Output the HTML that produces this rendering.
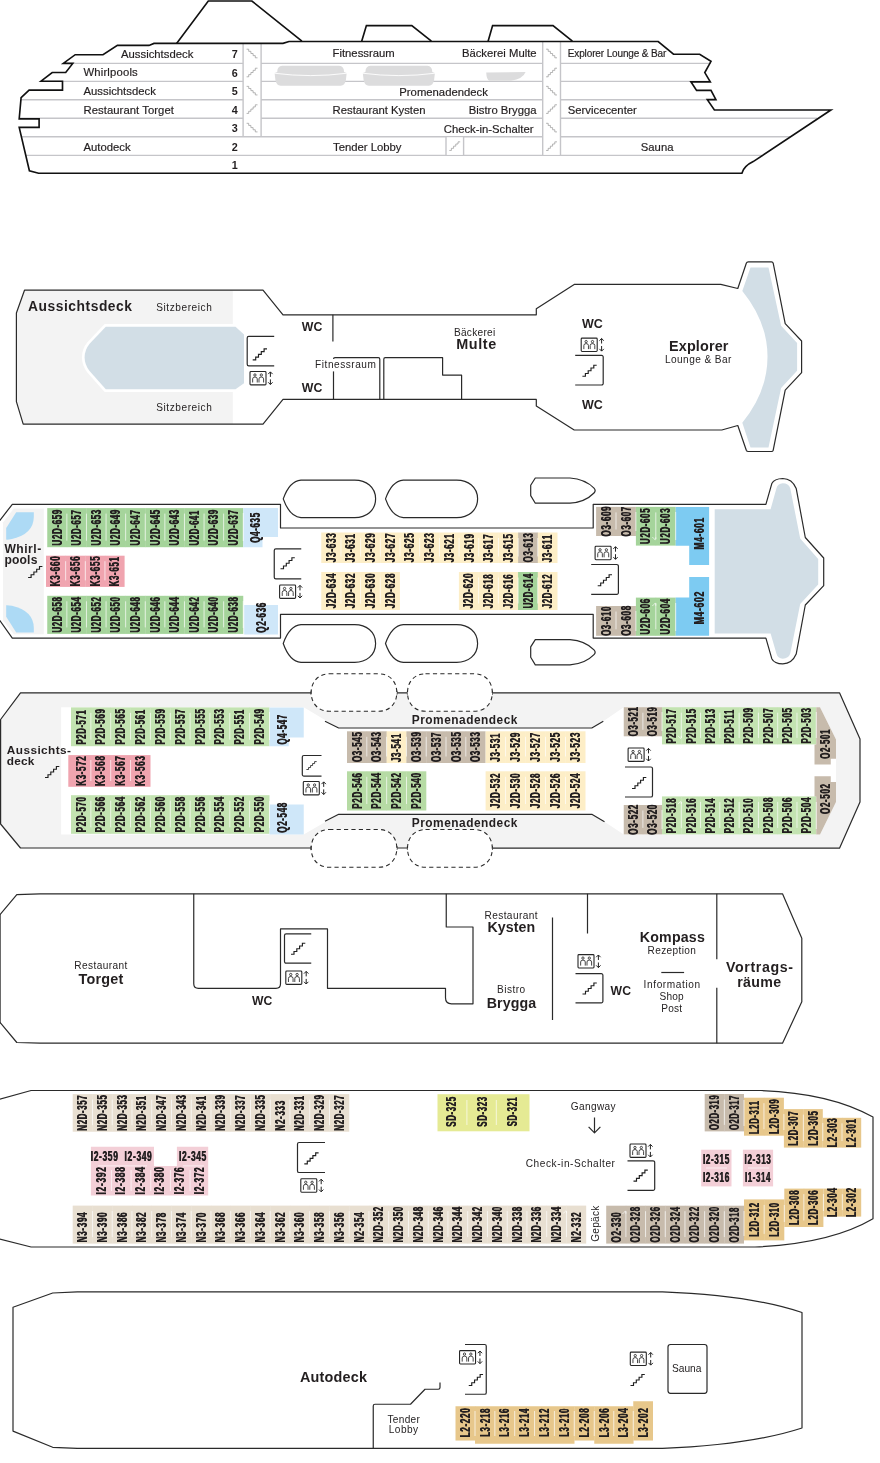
<!DOCTYPE html>
<html><head><meta charset="utf-8"><title>Deckplan</title>
<style>
html,body{margin:0;padding:0;background:#fff}
svg{display:block;will-change:transform}
text{font-family:"Liberation Sans",sans-serif;fill:#231f20}
.h{fill:none;stroke:#2a2a2a;stroke-width:1.2;stroke-linejoin:round;stroke-linecap:butt}
.hf{fill:#fff;stroke:#2a2a2a;stroke-width:1.2;stroke-linejoin:round}
.pf{fill:none;stroke:#111;stroke-width:1.65;stroke-linejoin:miter}
.dl{fill:none;stroke:#c5c5c9;stroke-width:1.4}
.si{fill:none;stroke:#9c9c9c;stroke-width:0.75;stroke-linejoin:round}
.sp{stroke:#fff;stroke-width:0.8;stroke-opacity:0.85;fill:none}
.cb{font-weight:bold;text-anchor:middle;fill:#1a1a1a;letter-spacing:1.15px;font-size:14.9px}
.pl{font-size:11.3px;stroke:#231f20;stroke-width:0.18px}
.pn{font-size:10.8px;font-weight:bold;text-anchor:middle}
.r{font-size:10.1px;letter-spacing:0.6px;fill:#262324}
.b{font-weight:bold;fill:#231f20}
.db{fill:#fff;stroke:#2a2a2a;stroke-width:1.1;stroke-dasharray:4.2 3.2}
</style></head><body>
<svg width="880" height="1463" viewBox="0 0 880 1463">
<defs>
<g id="lift">
<rect x="0.8" y="0" width="16" height="13.4" rx="0.9" fill="#fff" stroke="#262626" stroke-width="1.1"/>
<g fill="none" stroke="#303030" stroke-width="0.9">
<circle cx="5.75" cy="3.5" r="1.15"/><path d="M3.45,11V7.4a2.3,1.9 0 0 1 4.6,0V11"/>
<circle cx="12.1" cy="3.5" r="1.15"/><path d="M9.8,11V7.4a2.3,1.9 0 0 1 4.6,0V11"/>
</g>
<path fill="none" stroke="#222" stroke-width="1" d="M21.2,0.4V5.4M19,2.6L21.2,0.4L23.4,2.6M21.2,7.9V13M19,10.8L21.2,13L23.4,10.8"/>
</g>
<path id="stair" fill="none" stroke="#1f1f1f" stroke-width="1.15" d="M0,0h3v-2.75h2.8v-2.75h2.8v-2.75h2.8v-2.75h2.9"/>
</defs>
<rect width="880" height="1463" fill="#fff"/>
<g id="profile">
<path class="dl" d="M63.5,63.4H711"/>
<path class="dl" d="M41.5,81.4H709.5"/>
<path class="dl" d="M21,99.7H715.5"/>
<path class="dl" d="M19.5,118.3H817"/>
<path class="dl" d="M21.5,136.7H790"/>
<path class="dl" d="M25.5,155.4H762"/>
<path fill="#dcdcdd" d="M274.6,72.9L277.20000000000005,72Q277.40000000000003,65.9 282.1,65.7H339.2Q343.9,65.9 344.09999999999997,72L346.7,72.9L345.9,80Q344.9,85.7 340.7,85.7H280.6Q276.40000000000003,85.7 275.40000000000003,80Z"/>
<path fill="none" stroke="#fff" stroke-width="0.9" d="M274.1,73.2Q310.65,78 347.2,73.2"/>
<path fill="#dcdcdd" d="M362.8,72.9L365.40000000000003,72Q365.6,65.9 370.3,65.7H427.4Q432.09999999999997,65.9 432.29999999999995,72L434.9,72.9L434.09999999999997,80Q433.09999999999997,85.7 428.9,85.7H368.8Q364.6,85.7 363.6,80Z"/>
<path fill="none" stroke="#fff" stroke-width="0.9" d="M362.3,73.2Q398.85,78 435.4,73.2"/>
<path fill="#dcdcdd" d="M486.2,72.6L525.6,72.1Q523,79 511,80.8H489.5Q486.6,80.4 486.2,72.6Z"/>
<rect x="243.10" y="44.00" width="18.00" height="92.00" fill="#fff" />
<rect x="542.60" y="42.50" width="17.90" height="112.20" fill="#fff" />
<rect x="446.10" y="137.40" width="17.60" height="17.30" fill="#fff" />
<path class="dl" d="M243.1,43.5V136.7M261.1,43.5V136.7M542.7,42V155.4M560.5,42V155.4M446,136.7V155.4M463.6,136.7V155.4"/>
<path class="si" d="M246.60,49.20h2.1v2.15h2.2v2.15h2.2v2.15h2.2v2.15h2.2"/>
<path class="si" d="M246.60,76.80h2.1v-2.15h2.2v-2.15h2.2v-2.15h2.2v-2.15h2.2"/>
<path class="si" d="M246.60,86.35h2.1v2.15h2.2v2.15h2.2v2.15h2.2v2.15h2.2"/>
<path class="si" d="M246.60,113.40h2.1v-2.15h2.2v-2.15h2.2v-2.15h2.2v-2.15h2.2"/>
<path class="si" d="M246.60,123.30h2.1v2.15h2.2v2.15h2.2v2.15h2.2v2.15h2.2"/>
<path class="si" d="M546.10,49.20h2.1v2.15h2.2v2.15h2.2v2.15h2.2v2.15h2.2"/>
<path class="si" d="M546.10,76.80h2.1v-2.15h2.2v-2.15h2.2v-2.15h2.2v-2.15h2.2"/>
<path class="si" d="M546.10,86.35h2.1v2.15h2.2v2.15h2.2v2.15h2.2v2.15h2.2"/>
<path class="si" d="M546.10,113.40h2.1v-2.15h2.2v-2.15h2.2v-2.15h2.2v-2.15h2.2"/>
<path class="si" d="M546.10,123.30h2.1v2.15h2.2v2.15h2.2v2.15h2.2v2.15h2.2"/>
<path class="si" d="M546.10,150.45h2.1v-2.15h2.2v-2.15h2.2v-2.15h2.2v-2.15h2.2"/>
<path class="si" d="M449.30,150.45h2.1v-2.15h2.2v-2.15h2.2v-2.15h2.2v-2.15h2.2"/>
<path class="pf" d="M176.6,43.4L208.3,1H251.9L301.9,41.2"/>
<path class="pf" d="M361.7,41.2L366.4,25.6H411.8L431.4,41.2"/>
<path class="pf" d="M488.1,41.2L492.6,25.6H553L572.4,41.2"/>
<path class="pf" d="M283,43.4H154L149,45.4H117.4L103,54.7H75.2L63.3,63.4H72.8L65.7,72.5H52.2L41,81.2H62.5V90.1H29.1L21.1,97.6L19.2,118.8H39.1V127.4H19.2L29.4,170.8L38.6,173.2H741.9Q744,166 753.2,161.6L830.9,110H714.4L707.3,99.6H715.9L711,90.4H696.6L690.9,81.8H710.3L704.8,72.6L711,61.4L699.7,54.2H673.5L658.2,41.5H289L283,43.4Z"/>
<text class="pn" x="234.8" y="58.0">7</text>
<text class="pn" x="234.8" y="76.7">6</text>
<text class="pn" x="234.8" y="95.30000000000001">5</text>
<text class="pn" x="234.8" y="113.9">4</text>
<text class="pn" x="234.8" y="132.4">3</text>
<text class="pn" x="234.8" y="151.0">2</text>
<text class="pn" x="234.8" y="169.4">1</text>
<text class="pl" x="121" y="57.6" textLength="72.3" lengthAdjust="spacing" >Aussichtsdeck</text>
<text class="pl" x="83.5" y="76.3" textLength="54.2" lengthAdjust="spacing" >Whirlpools</text>
<text class="pl" x="83.5" y="94.9" textLength="72.3" lengthAdjust="spacing" >Aussichtsdeck</text>
<text class="pl" x="83.5" y="113.5" textLength="90.4" lengthAdjust="spacing" >Restaurant Torget</text>
<text class="pl" x="83.5" y="150.6" >Autodeck</text>
<text class="pl" x="332.6" y="57.1" textLength="62" lengthAdjust="spacing" >Fitnessraum</text>
<text class="pl" x="332.6" y="113.5" >Restaurant Kysten</text>
<text class="pl" x="333" y="150.6" >Tender Lobby</text>
<text class="pl" x="399.3" y="95.5" >Promenadendeck</text>
<text class="pl" x="536.6" y="57.1" text-anchor="end" >Bäckerei Multe</text>
<text class="pl" x="536.6" y="113.5" text-anchor="end" >Bistro Brygga</text>
<text class="pl" x="533.5" y="132.6" text-anchor="end" >Check-in-Schalter</text>
<text class="pl" x="567.8" y="57.1" textLength="98.5" lengthAdjust="spacing" style="font-size:10px" >Explorer Lounge &amp; Bar</text>
<text class="pl" x="567.8" y="113.5" textLength="69" lengthAdjust="spacing" >Servicecenter</text>
<text class="pl" x="640.8" y="150.6" >Sauna</text>
</g>
<g id="deck7">
<path fill="#f3f3f3" d="M24.5,290.2H232.8V424H23.2L16.4,401.7V313Z"/>
<path fill="#d2dee6" stroke="#fff" stroke-width="5.4" paint-order="stroke" stroke-linejoin="miter" d="M105.8,326.8H235.5L244,334.5V383.2L235.5,389.2H105.8L89.6,371Q84.6,364.5 84.6,357.5Q84.6,350 89.6,343.8Z"/>
<path class="h" d="M24.5,290.2H263L283,314.8H536.3V308.7L574.2,284.4H720.8L737.8,288.5L746.3,263.2Q746.8,261.9 748.3,261.9H771.5Q772.8,261.9 773.2,263.2L785.2,323.6L801.6,341V372.7L785.2,390.1L773.2,450.2Q772.8,451.5 771.5,451.5H748.3Q746.8,451.5 746.3,450.2L737.8,425.5L721.8,430H574.2L536.3,405.9V399.4H283L263,424.2H23.2L16.4,401.7V313Z"/>
<path fill="#d2dee6" d="M750.5,267.4H768.5L781.1,325.7L797.1,343.1V370.7L781.1,388.1L768.5,447.4H750.5L742.3,422.8Q767.5,392 767.5,356.6Q767.5,322 742.3,290.9Z"/>
<path class="h" d="M332.9,314.8V341.4"/>
<path class="h" d="M333.5,399.4V359.2Q333.5,357.7 335,357.7H378.3Q379.8,357.7 379.8,359.2V399.4"/>
<path class="h" d="M383.8,399.4V359.2Q383.8,357.7 385.3,357.7H442.6V375.1H461.6V399.4"/>
<path class="h" d="M274.2,336.4H248.79999999999998a1.6,1.6 0 0 0 -1.6,1.6V364.29999999999995a1.6,1.6 0 0 0 1.6,1.6H274.2"/>
<use href="#stair" x="252.70" y="359.90"/>
<use href="#lift" x="249.20" y="371.50"/>
<use href="#lift" x="580.40" y="338.10"/>
<path class="h" d="M575.2,355.4H601.6a1.6,1.6 0 0 1 1.6,1.6V383.4a1.6,1.6 0 0 1 -1.6,1.6H575.2"/>
<use href="#stair" x="582.40" y="376.30"/>
<text class="b" x="28" y="310.7" textLength="104" lengthAdjust="spacing" style="font-size:13.8px" >Aussichtsdeck</text>
<text class="r" x="156.2" y="311.1" textLength="56.2" lengthAdjust="spacing" >Sitzbereich</text>
<text class="r" x="156.2" y="411.4" textLength="56.2" lengthAdjust="spacing" >Sitzbereich</text>
<text class="b" x="301.8" y="330.8" textLength="20.5" lengthAdjust="spacingAndGlyphs" style="font-size:12.7px" >WC</text>
<text class="b" x="301.8" y="391.8" textLength="20.5" lengthAdjust="spacingAndGlyphs" style="font-size:12.7px" >WC</text>
<rect x="314.00" y="359.00" width="64.00" height="12.40" fill="#fff" />
<text class="r" x="315.1" y="368.0" textLength="61.4" lengthAdjust="spacing" >Fitnessraum</text>
<text class="r" x="453.9" y="336.3" textLength="41.9" lengthAdjust="spacing" >Bäckerei</text>
<text class="b" x="456.3" y="349.3" textLength="39.9" lengthAdjust="spacing" style="font-size:14.4px" >Multe</text>
<text class="b" x="582" y="327.8" textLength="20.8" lengthAdjust="spacingAndGlyphs" style="font-size:12.7px" >WC</text>
<text class="b" x="582" y="408.6" textLength="20.8" lengthAdjust="spacingAndGlyphs" style="font-size:12.7px" >WC</text>
<text class="b" x="669" y="351.2" textLength="59.4" lengthAdjust="spacing" style="font-size:14.4px" >Explorer</text>
<text class="r" x="665" y="363.0" textLength="67" lengthAdjust="spacing" >Lounge &amp; Bar</text>
</g>
<g id="deck6">
<path fill="#f3f3f3" d="M13.8,508.6H43.8V634.2H13.8L3,620V522.5Z"/>
<path fill="#addaf5" d="M6.2,539.6V528L16.2,512.3H33.8V517Q33.5,534 12,539Q8,539.8 6.2,539.6Z"/>
<path fill="#addaf5" d="M6.2,605.2V616.8L16.2,632.5H33.8V627.8Q33.5,610.8 12,605.8Q8,605 6.2,605.2Z"/>
<path fill="#d2dee6" d="M714.7,509.3H770.6L776.4,488.5Q777.6,483.5 782.8,483.3Q788.5,483.3 790.3,488.4L800.2,538.5L818.2,559V584.5L800.2,604L790.3,653.5Q788.5,658.6 782.8,658.7Q777.6,658.4 776.4,653.5L770.6,633.6H714.7Z"/>
<path class="hf" d="M301.00,480.1H354.75C366.00,480.1 375.6,487.00 375.6,498.85C375.6,510.70 366.00,517.6 354.75,517.6H301.00Q289.50,516.70 283.25,498.85Q289.50,481.00 301.00,480.1Z"/>
<path class="hf" d="M301.00,624.6H354.75C366.00,624.6 375.6,631.50 375.6,643.45C375.6,655.40 366.00,662.3 354.75,662.3H301.00Q289.50,661.40 283.25,643.45Q289.50,625.50 301.00,624.6Z"/>
<path class="hf" d="M403.25,480.1H456.75C468.00,480.1 477.6,487.00 477.6,498.85C477.6,510.70 468.00,517.6 456.75,517.6H403.25Q391.75,516.70 385.5,498.85Q391.75,481.00 403.25,480.1Z"/>
<path class="hf" d="M403.25,624.6H456.75C468.00,624.6 477.6,631.50 477.6,643.45C477.6,655.40 468.00,662.3 456.75,662.3H403.25Q391.75,661.40 385.5,643.45Q391.75,625.50 403.25,624.6Z"/>
<path class="hf" d="M535.3,478H570Q585,479 594,488.20Q596.3,490.60 594,493.00Q585,502.2 570,503.2H535.3L530.7,495.60V485.30Z"/>
<path class="hf" d="M535.3,639.6H570Q585,640.6 594,649.85Q596.3,652.25 594,654.65Q585,663.9 570,664.9H535.3L530.7,657.30V646.90Z"/>
<path class="h" d="M-1,521.5L12.3,504.3H280.5V528H593.2V504.3H765.9L771.8,483.6Q774.3,478.6 782.8,478.5Q792,478.6 796.2,488.4L805.3,537.5L823.7,558V585.6L805.3,605L796.2,654.1Q792,663.8 782.8,663.9Q774.3,663.8 771.8,658.7L765.9,638.1H593.2V614.3H280.5V638.1H12.3L-1,619.3"/>
<rect x="47.25" y="508.10" width="19.90" height="39.10" fill="#a5d49b" />
<rect x="66.85" y="508.10" width="19.90" height="39.10" fill="#a5d49b" />
<rect x="86.45" y="508.10" width="19.90" height="39.10" fill="#a5d49b" />
<rect x="106.05" y="508.10" width="19.90" height="39.10" fill="#a5d49b" />
<rect x="125.65" y="508.10" width="19.90" height="39.10" fill="#a5d49b" />
<rect x="145.25" y="508.10" width="19.90" height="39.10" fill="#a5d49b" />
<rect x="164.85" y="508.10" width="19.90" height="39.10" fill="#a5d49b" />
<rect x="184.45" y="508.10" width="19.90" height="39.10" fill="#a5d49b" />
<rect x="204.05" y="508.10" width="19.90" height="39.10" fill="#a5d49b" />
<rect x="223.65" y="508.10" width="19.60" height="39.10" fill="#a5d49b" />
<path class="sp" d="M66.85,513.60V540.70"/>
<path class="sp" d="M86.45,513.60V540.70"/>
<path class="sp" d="M106.05,513.60V540.70"/>
<path class="sp" d="M125.65,513.60V540.70"/>
<path class="sp" d="M145.25,513.60V540.70"/>
<path class="sp" d="M164.85,513.60V540.70"/>
<path class="sp" d="M184.45,513.60V540.70"/>
<path class="sp" d="M204.05,513.60V540.70"/>
<path class="sp" d="M223.65,513.60V540.70"/>
<rect x="47.25" y="595.80" width="19.90" height="38.10" fill="#a5d49b" />
<rect x="66.85" y="595.80" width="19.90" height="38.10" fill="#a5d49b" />
<rect x="86.45" y="595.80" width="19.90" height="38.10" fill="#a5d49b" />
<rect x="106.05" y="595.80" width="19.90" height="38.10" fill="#a5d49b" />
<rect x="125.65" y="595.80" width="19.90" height="38.10" fill="#a5d49b" />
<rect x="145.25" y="595.80" width="19.90" height="38.10" fill="#a5d49b" />
<rect x="164.85" y="595.80" width="19.90" height="38.10" fill="#a5d49b" />
<rect x="184.45" y="595.80" width="19.90" height="38.10" fill="#a5d49b" />
<rect x="204.05" y="595.80" width="19.90" height="38.10" fill="#a5d49b" />
<rect x="223.65" y="595.80" width="19.60" height="38.10" fill="#a5d49b" />
<path class="sp" d="M66.85,601.30V627.40"/>
<path class="sp" d="M86.45,601.30V627.40"/>
<path class="sp" d="M106.05,601.30V627.40"/>
<path class="sp" d="M125.65,601.30V627.40"/>
<path class="sp" d="M145.25,601.30V627.40"/>
<path class="sp" d="M164.85,601.30V627.40"/>
<path class="sp" d="M184.45,601.30V627.40"/>
<path class="sp" d="M204.05,601.30V627.40"/>
<path class="sp" d="M223.65,601.30V627.40"/>
<rect x="46.00" y="555.70" width="19.95" height="31.20" fill="#f0a4af" />
<rect x="65.65" y="555.70" width="19.95" height="31.20" fill="#f0a4af" />
<rect x="85.30" y="555.70" width="19.95" height="31.20" fill="#f0a4af" />
<rect x="104.95" y="555.70" width="19.65" height="31.20" fill="#f0a4af" />
<path class="sp" d="M65.65,561.20V580.40"/>
<path class="sp" d="M85.30,561.20V580.40"/>
<path class="sp" d="M104.95,561.20V580.40"/>
<path fill="#cfe7f9" d="M243.25,508.1H278V537H262.5V547.2H243.25Z"/>
<rect x="244.20" y="605.00" width="33.80" height="29.50" fill="#cfe7f9" />
<rect x="321.25" y="532.50" width="19.99" height="30.50" fill="#fdeec7" />
<rect x="340.94" y="532.50" width="19.99" height="30.50" fill="#fdeec7" />
<rect x="360.62" y="532.50" width="19.99" height="30.50" fill="#fdeec7" />
<rect x="380.31" y="532.50" width="19.99" height="30.50" fill="#fdeec7" />
<rect x="400.00" y="532.50" width="19.99" height="30.50" fill="#fdeec7" />
<rect x="419.69" y="532.50" width="19.99" height="30.50" fill="#fdeec7" />
<rect x="439.38" y="532.50" width="19.99" height="30.50" fill="#fdeec7" />
<rect x="459.06" y="532.50" width="19.99" height="30.50" fill="#fdeec7" />
<rect x="478.75" y="532.50" width="19.99" height="30.50" fill="#fdeec7" />
<rect x="498.44" y="532.50" width="19.99" height="30.50" fill="#fdeec7" />
<rect x="518.12" y="532.50" width="19.99" height="30.50" fill="#c7bbac" />
<rect x="537.81" y="532.50" width="19.69" height="30.50" fill="#fdeec7" />
<path class="sp" d="M340.94,538.00V556.50"/>
<path class="sp" d="M360.62,538.00V556.50"/>
<path class="sp" d="M380.31,538.00V556.50"/>
<path class="sp" d="M400.00,538.00V556.50"/>
<path class="sp" d="M419.69,538.00V556.50"/>
<path class="sp" d="M439.38,538.00V556.50"/>
<path class="sp" d="M459.06,538.00V556.50"/>
<path class="sp" d="M478.75,538.00V556.50"/>
<path class="sp" d="M498.44,538.00V556.50"/>
<path class="sp" d="M518.12,538.00V556.50"/>
<path class="sp" d="M537.81,538.00V556.50"/>
<rect x="321.25" y="572.00" width="19.96" height="38.00" fill="#fdeec7" />
<rect x="340.91" y="572.00" width="19.96" height="38.00" fill="#fdeec7" />
<rect x="360.57" y="572.00" width="19.96" height="38.00" fill="#fdeec7" />
<rect x="380.24" y="572.00" width="19.66" height="38.00" fill="#fdeec7" />
<path class="sp" d="M340.91,577.50V603.50"/>
<path class="sp" d="M360.57,577.50V603.50"/>
<path class="sp" d="M380.24,577.50V603.50"/>
<rect x="458.90" y="572.00" width="20.02" height="38.00" fill="#fdeec7" />
<rect x="478.62" y="572.00" width="20.02" height="38.00" fill="#fdeec7" />
<rect x="498.34" y="572.00" width="20.02" height="38.00" fill="#fdeec7" />
<rect x="518.06" y="572.00" width="20.02" height="38.00" fill="#a5d49b" />
<rect x="537.78" y="572.00" width="19.72" height="38.00" fill="#fdeec7" />
<path class="sp" d="M478.62,577.50V603.50"/>
<path class="sp" d="M498.34,577.50V603.50"/>
<path class="sp" d="M518.06,577.50V603.50"/>
<path class="sp" d="M537.78,577.50V603.50"/>
<rect x="596.10" y="506.90" width="20.20" height="29.10" fill="#c7bbac" />
<rect x="616.00" y="506.90" width="19.90" height="29.10" fill="#c7bbac" />
<path class="sp" d="M616.00,512.40V529.50"/>
<rect x="635.90" y="506.90" width="20.20" height="38.70" fill="#a5d49b" />
<rect x="655.80" y="506.90" width="19.90" height="38.70" fill="#a5d49b" />
<path class="sp" d="M655.80,512.40V539.10"/>
<rect x="596.10" y="606.00" width="20.20" height="29.80" fill="#c7bbac" />
<rect x="616.00" y="606.00" width="19.90" height="29.80" fill="#c7bbac" />
<path class="sp" d="M616.00,611.50V629.30"/>
<rect x="635.90" y="597.60" width="20.20" height="38.20" fill="#a5d49b" />
<rect x="655.80" y="597.60" width="19.90" height="38.20" fill="#a5d49b" />
<path class="sp" d="M655.80,603.10V629.30"/>
<path fill="#7dcbf2" d="M675.7,506.9H709.1V565H689.2V545.8H675.7Z"/>
<path fill="#7dcbf2" d="M689.2,576.9H709.1V635.8H675.7V597.6H689.2Z"/>
<path class="h" d="M301.25,548.8H275.85a1.6,1.6 0 0 0 -1.6,1.6V577.1999999999999a1.6,1.6 0 0 0 1.6,1.6H301.25"/>
<use href="#stair" x="280.50" y="568.80"/>
<use href="#lift" x="278.80" y="585.00"/>
<use href="#lift" x="594.30" y="546.30"/>
<path class="h" d="M591.2,564.5H616.8a1.6,1.6 0 0 1 1.6,1.6V592.8a1.6,1.6 0 0 1 -1.6,1.6H591.2"/>
<use href="#stair" x="597.70" y="585.70"/>
<use href="#stair" x="28.10" y="577.50"/>
<text class="b" x="4.4" y="552.8" textLength="36.8" lengthAdjust="spacing" style="font-size:12.1px" >Whirl-</text>
<text class="b" x="4.4" y="563.8" textLength="33" lengthAdjust="spacing" style="font-size:12.1px" >pools</text>
</g>
<g id="deck5">
<path fill="#f3f3f3" d="M0.6,719.5L20.5,692.5H839.5L860,738.9V801.9L839.5,848.2H20.5L0.6,824Z"/>
<path fill="#fff" d="M61.1,707.2H303.7L338,727.8H591.8L603.3,721.3L623.75,707.2H820L836,739.5V801.9L820,834.4H623.75L604.5,821.8L591.8,814.3H338.7L303.7,834.4H61.1Z"/>
<path class="h" d="M311.2,692.8H20.5L0.6,719.5V824L20.5,848H311.2M396.8,692.8H407.5M396.8,848H407.5M492.3,692.8H839.5L860,738.9V801.9L839.5,848.2H492.3"/>
<path class="h" d="M311.2,690.8V694.8M396.8,690.8V694.8M407.5,690.8V694.8M492.3,690.8V694.8M311.2,846V850M396.8,846V850M407.5,846V850M492.3,846V850"/>
<path class="db" d="M329.2,673.8H378.8C388.8,673.8 396.8,680.8 396.8,692.55C396.8,704.3 388.8,711.3 378.8,711.3H329.2C319.2,711.3 311.2,704.3 311.2,692.55C311.2,680.8 319.2,673.8 329.2,673.8Z"/>
<path class="db" d="M329.2,829.5H378.8C388.8,829.5 396.8,836.5 396.8,848.4C396.8,860.3 388.8,867.3 378.8,867.3H329.2C319.2,867.3 311.2,860.3 311.2,848.4C311.2,836.5 319.2,829.5 329.2,829.5Z"/>
<path class="db" d="M425.5,673.8H474.3C484.3,673.8 492.3,680.8 492.3,692.55C492.3,704.3 484.3,711.3 474.3,711.3H425.5C415.5,711.3 407.5,704.3 407.5,692.55C407.5,680.8 415.5,673.8 425.5,673.8Z"/>
<path class="db" d="M425.5,829.5H474.3C484.3,829.5 492.3,836.5 492.3,848.4C492.3,860.3 484.3,867.3 474.3,867.3H425.5C415.5,867.3 407.5,860.3 407.5,848.4C407.5,836.5 415.5,829.5 425.5,829.5Z"/>
<path class="h" d="M325,721.2L338.7,728H591.8L603.3,721.2M325,821.3L338.7,814.3H591.8L604.5,821.8"/>
<rect x="71.00" y="707.40" width="20.15" height="38.80" fill="#c3e3b1" />
<rect x="90.85" y="707.40" width="20.15" height="38.80" fill="#c3e3b1" />
<rect x="110.70" y="707.40" width="20.15" height="38.80" fill="#c3e3b1" />
<rect x="130.55" y="707.40" width="20.15" height="38.80" fill="#c3e3b1" />
<rect x="150.40" y="707.40" width="20.15" height="38.80" fill="#c3e3b1" />
<rect x="170.25" y="707.40" width="20.15" height="38.80" fill="#c3e3b1" />
<rect x="190.10" y="707.40" width="20.15" height="38.80" fill="#c3e3b1" />
<rect x="209.95" y="707.40" width="20.15" height="38.80" fill="#c3e3b1" />
<rect x="229.80" y="707.40" width="20.15" height="38.80" fill="#c3e3b1" />
<rect x="249.65" y="707.40" width="19.85" height="38.80" fill="#c3e3b1" />
<path class="sp" d="M90.85,712.90V739.70"/>
<path class="sp" d="M110.70,712.90V739.70"/>
<path class="sp" d="M130.55,712.90V739.70"/>
<path class="sp" d="M150.40,712.90V739.70"/>
<path class="sp" d="M170.25,712.90V739.70"/>
<path class="sp" d="M190.10,712.90V739.70"/>
<path class="sp" d="M209.95,712.90V739.70"/>
<path class="sp" d="M229.80,712.90V739.70"/>
<path class="sp" d="M249.65,712.90V739.70"/>
<rect x="71.00" y="795.20" width="20.15" height="38.60" fill="#c3e3b1" />
<rect x="90.85" y="795.20" width="20.15" height="38.60" fill="#c3e3b1" />
<rect x="110.70" y="795.20" width="20.15" height="38.60" fill="#c3e3b1" />
<rect x="130.55" y="795.20" width="20.15" height="38.60" fill="#c3e3b1" />
<rect x="150.40" y="795.20" width="20.15" height="38.60" fill="#c3e3b1" />
<rect x="170.25" y="795.20" width="20.15" height="38.60" fill="#c3e3b1" />
<rect x="190.10" y="795.20" width="20.15" height="38.60" fill="#c3e3b1" />
<rect x="209.95" y="795.20" width="20.15" height="38.60" fill="#c3e3b1" />
<rect x="229.80" y="795.20" width="20.15" height="38.60" fill="#c3e3b1" />
<rect x="249.65" y="795.20" width="19.85" height="38.60" fill="#c3e3b1" />
<path class="sp" d="M90.85,800.70V827.30"/>
<path class="sp" d="M110.70,800.70V827.30"/>
<path class="sp" d="M130.55,800.70V827.30"/>
<path class="sp" d="M150.40,800.70V827.30"/>
<path class="sp" d="M170.25,800.70V827.30"/>
<path class="sp" d="M190.10,800.70V827.30"/>
<path class="sp" d="M209.95,800.70V827.30"/>
<path class="sp" d="M229.80,800.70V827.30"/>
<path class="sp" d="M249.65,800.70V827.30"/>
<rect x="68.30" y="755.10" width="82.20" height="31.70" fill="#f0a4af" />
<path class="sp" d="M90.85,760.00V781.00"/>
<path class="sp" d="M110.70,760.00V781.00"/>
<path class="sp" d="M130.55,760.00V781.00"/>
<path fill="#cfe7f9" d="M269.5,707.4H303.75V737.5H288.75V746.2H269.5Z"/>
<rect x="269.50" y="804.50" width="34.25" height="30.00" fill="#cfe7f9" />
<rect x="347.00" y="731.30" width="20.10" height="31.70" fill="#c7bbac" />
<rect x="366.80" y="731.30" width="20.10" height="31.70" fill="#c7bbac" />
<rect x="386.60" y="731.30" width="20.10" height="31.70" fill="#fdeec7" />
<rect x="406.40" y="731.30" width="20.10" height="31.70" fill="#c7bbac" />
<rect x="426.20" y="731.30" width="20.10" height="31.70" fill="#c7bbac" />
<rect x="446.00" y="731.30" width="20.10" height="31.70" fill="#c7bbac" />
<rect x="465.80" y="731.30" width="19.80" height="31.70" fill="#c7bbac" />
<path class="sp" d="M366.80,736.80V756.50"/>
<path class="sp" d="M386.60,736.80V756.50"/>
<path class="sp" d="M406.40,736.80V756.50"/>
<path class="sp" d="M426.20,736.80V756.50"/>
<path class="sp" d="M446.00,736.80V756.50"/>
<path class="sp" d="M465.80,736.80V756.50"/>
<rect x="485.60" y="731.30" width="20.28" height="31.70" fill="#fdeec7" />
<rect x="505.58" y="731.30" width="20.28" height="31.70" fill="#fdeec7" />
<rect x="525.56" y="731.30" width="20.28" height="31.70" fill="#fdeec7" />
<rect x="545.54" y="731.30" width="20.28" height="31.70" fill="#fdeec7" />
<rect x="565.52" y="731.30" width="19.98" height="31.70" fill="#fdeec7" />
<path class="sp" d="M505.58,736.80V756.50"/>
<path class="sp" d="M525.56,736.80V756.50"/>
<path class="sp" d="M545.54,736.80V756.50"/>
<path class="sp" d="M565.52,736.80V756.50"/>
<rect x="347.00" y="771.30" width="20.13" height="39.20" fill="#b6dba4" />
<rect x="366.82" y="771.30" width="20.13" height="39.20" fill="#b6dba4" />
<rect x="386.65" y="771.30" width="20.13" height="39.20" fill="#b6dba4" />
<rect x="406.48" y="771.30" width="19.83" height="39.20" fill="#b6dba4" />
<path class="sp" d="M366.82,776.80V804.00"/>
<path class="sp" d="M386.65,776.80V804.00"/>
<path class="sp" d="M406.48,776.80V804.00"/>
<rect x="485.60" y="771.30" width="20.28" height="39.20" fill="#fdeec7" />
<rect x="505.58" y="771.30" width="20.28" height="39.20" fill="#fdeec7" />
<rect x="525.56" y="771.30" width="20.28" height="39.20" fill="#fdeec7" />
<rect x="545.54" y="771.30" width="20.28" height="39.20" fill="#fdeec7" />
<rect x="565.52" y="771.30" width="19.98" height="39.20" fill="#fdeec7" />
<path class="sp" d="M505.58,776.80V804.00"/>
<path class="sp" d="M525.56,776.80V804.00"/>
<path class="sp" d="M545.54,776.80V804.00"/>
<path class="sp" d="M565.52,776.80V804.00"/>
<rect x="623.75" y="707.20" width="19.43" height="29.10" fill="#c7bbac" />
<rect x="642.88" y="707.20" width="19.12" height="29.10" fill="#c7bbac" />
<path class="sp" d="M642.88,712.70V729.80"/>
<rect x="623.75" y="805.00" width="19.43" height="29.40" fill="#c7bbac" />
<rect x="642.88" y="805.00" width="19.12" height="29.40" fill="#c7bbac" />
<path class="sp" d="M642.88,810.50V827.90"/>
<rect x="662.00" y="707.20" width="19.58" height="37.20" fill="#c3e3b1" />
<rect x="681.28" y="707.20" width="19.58" height="37.20" fill="#c3e3b1" />
<rect x="700.56" y="707.20" width="19.58" height="37.20" fill="#c3e3b1" />
<rect x="719.84" y="707.20" width="19.58" height="37.20" fill="#c3e3b1" />
<rect x="739.12" y="707.20" width="19.58" height="37.20" fill="#c3e3b1" />
<rect x="758.41" y="707.20" width="19.58" height="37.20" fill="#c3e3b1" />
<rect x="777.69" y="707.20" width="19.58" height="37.20" fill="#c3e3b1" />
<rect x="796.97" y="707.20" width="19.28" height="37.20" fill="#c3e3b1" />
<path class="sp" d="M681.28,712.70V737.90"/>
<path class="sp" d="M700.56,712.70V737.90"/>
<path class="sp" d="M719.84,712.70V737.90"/>
<path class="sp" d="M739.12,712.70V737.90"/>
<path class="sp" d="M758.41,712.70V737.90"/>
<path class="sp" d="M777.69,712.70V737.90"/>
<path class="sp" d="M796.97,712.70V737.90"/>
<rect x="662.00" y="796.40" width="19.58" height="38.00" fill="#c3e3b1" />
<rect x="681.28" y="796.40" width="19.58" height="38.00" fill="#c3e3b1" />
<rect x="700.56" y="796.40" width="19.58" height="38.00" fill="#c3e3b1" />
<rect x="719.84" y="796.40" width="19.58" height="38.00" fill="#c3e3b1" />
<rect x="739.12" y="796.40" width="19.58" height="38.00" fill="#c3e3b1" />
<rect x="758.41" y="796.40" width="19.58" height="38.00" fill="#c3e3b1" />
<rect x="777.69" y="796.40" width="19.58" height="38.00" fill="#c3e3b1" />
<rect x="796.97" y="796.40" width="19.28" height="38.00" fill="#c3e3b1" />
<path class="sp" d="M681.28,801.90V827.90"/>
<path class="sp" d="M700.56,801.90V827.90"/>
<path class="sp" d="M719.84,801.90V827.90"/>
<path class="sp" d="M739.12,801.90V827.90"/>
<path class="sp" d="M758.41,801.90V827.90"/>
<path class="sp" d="M777.69,801.90V827.90"/>
<path class="sp" d="M796.97,801.90V827.90"/>
<path fill="#c7bbac" d="M816.25,707.2H820L836,739.5V758.8H830.75V764.5H814.5V744.4H816.25Z"/>
<path fill="#c7bbac" d="M816.25,834.4H820L836,801.9V782H830.75V776.3H814.5V796.4H816.25Z"/>
<path class="h" d="M321.5,755.5H303.90000000000003a1.6,1.6 0 0 0 -1.6,1.6V774.5a1.6,1.6 0 0 0 1.6,1.6H321.5"/>
<g transform="translate(306.40,769.50) scale(0.72)"><use href="#stair"/></g>
<use href="#lift" x="302.50" y="781.50"/>
<use href="#lift" x="627.30" y="748.00"/>
<path class="h" d="M625,767H650.9a1.6,1.6 0 0 1 1.6,1.6V795.4a1.6,1.6 0 0 1 -1.6,1.6H625"/>
<use href="#stair" x="632.00" y="788.50"/>
<use href="#stair" x="45.00" y="777.50"/>
<text class="b" x="6.8" y="753.5" textLength="64.2" lengthAdjust="spacing" style="font-size:11.8px" >Aussichts-</text>
<text class="b" x="6.8" y="765.4" textLength="27.5" lengthAdjust="spacing" style="font-size:11.8px" >deck</text>
<text class="b" x="411.75" y="723.8" textLength="105.7" lengthAdjust="spacing" style="font-size:11.9px" >Promenadendeck</text>
<text class="b" x="411.75" y="827.3" textLength="105.7" lengthAdjust="spacing" style="font-size:11.9px" >Promenadendeck</text>
</g>
<g id="deck4">
<path class="h" d="M0,914.7L16.8,894.6L40,893.8H782.5L801.8,938.2V1001.8L782.5,1043.2H40L16.8,1042.5L0,1022.4"/>
<path class="h" d="M0.1,914.3V1023.4"/>
<path class="h" d="M193.75,893.8V983.7Q193.75,988.3 198.4,988.3H276Q280.5,988.3 280.5,983.7V928.8H327.5V988.3H445.5V997.8Q445.5,1003.8 451.5,1003.8H473V927H446.25V893.8"/>
<path class="h" d="M552.5,917.5V1020M587.5,893.8V933.6M716.8,893.8V959.2M716.8,987.8V1043.2"/>
<path class="h" d="M661.3,972.5H684.1" stroke-width="0.8"/>
<path class="h" d="M311.25,933.8H286.1a1.6,1.6 0 0 0 -1.6,1.6V961.6a1.6,1.6 0 0 0 1.6,1.6H311.25"/>
<use href="#stair" x="291.00" y="954.30"/>
<use href="#lift" x="285.00" y="971.00"/>
<use href="#lift" x="577.20" y="954.60"/>
<path class="h" d="M575.5,973.7H601.3a1.6,1.6 0 0 1 1.6,1.6V1001.3a1.6,1.6 0 0 1 -1.6,1.6H575.5"/>
<use href="#stair" x="582.50" y="994.00"/>
<text class="r" x="74.3" y="968.7" textLength="53.6" lengthAdjust="spacing" >Restaurant</text>
<text class="b" x="78.4" y="983.7" textLength="45" lengthAdjust="spacing" style="font-size:14.4px" >Torget</text>
<text class="b" x="252" y="1004.8" textLength="20.3" lengthAdjust="spacingAndGlyphs" style="font-size:12.7px" >WC</text>
<text class="r" x="484.5" y="918.5" textLength="53.6" lengthAdjust="spacing" >Restaurant</text>
<text class="b" x="487.5" y="931.7" textLength="47.6" lengthAdjust="spacing" style="font-size:14.2px" >Kysten</text>
<text class="r" x="497" y="993.0" textLength="28.8" lengthAdjust="spacing" >Bistro</text>
<text class="b" x="486.75" y="1007.5" textLength="49.5" lengthAdjust="spacing" style="font-size:14.2px" >Brygga</text>
<text class="b" x="639.8" y="941.6" textLength="65" lengthAdjust="spacing" style="font-size:14.2px" >Kompass</text>
<text class="r" x="647.6" y="954.1" textLength="48.8" lengthAdjust="spacing" >Rezeption</text>
<text class="r" x="643.6" y="988.4" textLength="57.2" lengthAdjust="spacing" >Information</text>
<text class="r" x="659.5" y="1000.1" textLength="24.8" lengthAdjust="spacing" >Shop</text>
<text class="r" x="661.2" y="1011.7" textLength="21.4" lengthAdjust="spacing" >Post</text>
<text class="b" x="610.6" y="994.5" textLength="20.4" lengthAdjust="spacingAndGlyphs" style="font-size:12.7px" >WC</text>
<text class="b" x="726" y="971.6" textLength="67" lengthAdjust="spacing" style="font-size:14.2px" >Vortrags-</text>
<text class="b" x="737.2" y="986.5" textLength="43.9" lengthAdjust="spacing" style="font-size:14.2px" >räume</text>
</g>
<g id="deck3">
<path class="h" d="M-1,1099.4L31.1,1090.5H761Q830,1093 873,1117V1218.8Q830,1244 755,1247H31.1L-1,1238.8"/>
<rect x="72.70" y="1094.10" width="20.05" height="37.60" fill="#e8dfd1" />
<rect x="92.45" y="1094.10" width="20.05" height="37.60" fill="#e8dfd1" />
<rect x="112.21" y="1094.10" width="20.05" height="37.60" fill="#e8dfd1" />
<rect x="131.96" y="1094.10" width="20.05" height="37.60" fill="#e8dfd1" />
<rect x="151.71" y="1094.10" width="20.05" height="37.60" fill="#e8dfd1" />
<rect x="171.47" y="1094.10" width="20.05" height="37.60" fill="#e8dfd1" />
<rect x="191.22" y="1094.10" width="20.05" height="37.60" fill="#e8dfd1" />
<rect x="210.98" y="1094.10" width="20.05" height="37.60" fill="#e8dfd1" />
<rect x="230.73" y="1094.10" width="20.05" height="37.60" fill="#e8dfd1" />
<rect x="250.48" y="1094.10" width="20.05" height="37.60" fill="#e8dfd1" />
<rect x="270.24" y="1094.10" width="20.05" height="37.60" fill="#e8dfd1" />
<rect x="289.99" y="1094.10" width="20.05" height="37.60" fill="#e8dfd1" />
<rect x="309.74" y="1094.10" width="20.05" height="37.60" fill="#e8dfd1" />
<rect x="329.50" y="1094.10" width="19.75" height="37.60" fill="#e8dfd1" />
<path class="sp" d="M92.45,1099.60V1125.20"/>
<path class="sp" d="M112.21,1099.60V1125.20"/>
<path class="sp" d="M131.96,1099.60V1125.20"/>
<path class="sp" d="M151.71,1099.60V1125.20"/>
<path class="sp" d="M171.47,1099.60V1125.20"/>
<path class="sp" d="M191.22,1099.60V1125.20"/>
<path class="sp" d="M210.98,1099.60V1125.20"/>
<path class="sp" d="M230.73,1099.60V1125.20"/>
<path class="sp" d="M250.48,1099.60V1125.20"/>
<path class="sp" d="M270.24,1099.60V1125.20"/>
<path class="sp" d="M289.99,1099.60V1125.20"/>
<path class="sp" d="M309.74,1099.60V1125.20"/>
<path class="sp" d="M329.50,1099.60V1125.20"/>
<rect x="72.70" y="1205.60" width="20.05" height="38.00" fill="#e8dfd1" />
<rect x="92.45" y="1205.60" width="20.05" height="38.00" fill="#e8dfd1" />
<rect x="112.20" y="1205.60" width="20.05" height="38.00" fill="#e8dfd1" />
<rect x="131.95" y="1205.60" width="20.05" height="38.00" fill="#e8dfd1" />
<rect x="151.70" y="1205.60" width="20.05" height="38.00" fill="#e8dfd1" />
<rect x="171.45" y="1205.60" width="20.05" height="38.00" fill="#e8dfd1" />
<rect x="191.20" y="1205.60" width="20.05" height="38.00" fill="#e8dfd1" />
<rect x="210.95" y="1205.60" width="20.05" height="38.00" fill="#e8dfd1" />
<rect x="230.70" y="1205.60" width="20.05" height="38.00" fill="#e8dfd1" />
<rect x="250.45" y="1205.60" width="20.05" height="38.00" fill="#e8dfd1" />
<rect x="270.20" y="1205.60" width="20.05" height="38.00" fill="#e8dfd1" />
<rect x="289.95" y="1205.60" width="20.05" height="38.00" fill="#e8dfd1" />
<rect x="309.70" y="1205.60" width="20.05" height="38.00" fill="#e8dfd1" />
<rect x="329.45" y="1205.60" width="20.05" height="38.00" fill="#e8dfd1" />
<rect x="349.20" y="1205.60" width="20.05" height="38.00" fill="#e8dfd1" />
<rect x="368.95" y="1205.60" width="20.05" height="38.00" fill="#e8dfd1" />
<rect x="388.70" y="1205.60" width="20.05" height="38.00" fill="#e8dfd1" />
<rect x="408.45" y="1205.60" width="20.05" height="38.00" fill="#e8dfd1" />
<rect x="428.20" y="1205.60" width="20.05" height="38.00" fill="#e8dfd1" />
<rect x="447.95" y="1205.60" width="20.05" height="38.00" fill="#e8dfd1" />
<rect x="467.70" y="1205.60" width="20.05" height="38.00" fill="#e8dfd1" />
<rect x="487.45" y="1205.60" width="20.05" height="38.00" fill="#e8dfd1" />
<rect x="507.20" y="1205.60" width="20.05" height="38.00" fill="#e8dfd1" />
<rect x="526.95" y="1205.60" width="20.05" height="38.00" fill="#e8dfd1" />
<rect x="546.70" y="1205.60" width="20.05" height="38.00" fill="#e8dfd1" />
<rect x="566.45" y="1205.60" width="19.75" height="38.00" fill="#e8dfd1" />
<path class="sp" d="M92.45,1211.10V1237.10"/>
<path class="sp" d="M112.20,1211.10V1237.10"/>
<path class="sp" d="M131.95,1211.10V1237.10"/>
<path class="sp" d="M151.70,1211.10V1237.10"/>
<path class="sp" d="M171.45,1211.10V1237.10"/>
<path class="sp" d="M191.20,1211.10V1237.10"/>
<path class="sp" d="M210.95,1211.10V1237.10"/>
<path class="sp" d="M230.70,1211.10V1237.10"/>
<path class="sp" d="M250.45,1211.10V1237.10"/>
<path class="sp" d="M270.20,1211.10V1237.10"/>
<path class="sp" d="M289.95,1211.10V1237.10"/>
<path class="sp" d="M309.70,1211.10V1237.10"/>
<path class="sp" d="M329.45,1211.10V1237.10"/>
<path class="sp" d="M349.20,1211.10V1237.10"/>
<path class="sp" d="M368.95,1211.10V1237.10"/>
<path class="sp" d="M388.70,1211.10V1237.10"/>
<path class="sp" d="M408.45,1211.10V1237.10"/>
<path class="sp" d="M428.20,1211.10V1237.10"/>
<path class="sp" d="M447.95,1211.10V1237.10"/>
<path class="sp" d="M467.70,1211.10V1237.10"/>
<path class="sp" d="M487.45,1211.10V1237.10"/>
<path class="sp" d="M507.20,1211.10V1237.10"/>
<path class="sp" d="M526.95,1211.10V1237.10"/>
<path class="sp" d="M546.70,1211.10V1237.10"/>
<path class="sp" d="M566.45,1211.10V1237.10"/>
<path fill="#f3cfd7" d="M90.9,1146.8H154V1165.9H176.9V1146.8H208.2V1195.4H90.9Z"/>
<path class="sp" d="M111.45,1170.00V1191.00"/>
<path class="sp" d="M131.10,1170.00V1191.00"/>
<path class="sp" d="M150.75,1170.00V1191.00"/>
<path class="sp" d="M170.40,1170.00V1191.00"/>
<path class="sp" d="M190.05,1170.00V1191.00"/>
<path class="sp" d="M98,1165.9H147M183,1165.9H204"/>
<rect x="437.50" y="1094.20" width="92.00" height="37.10" fill="#e5ea94" />
<path class="sp" d="M466.90,1100.00V1125.00"/>
<path class="sp" d="M496.30,1100.00V1125.00"/>
<rect x="704.70" y="1094.00" width="19.95" height="37.40" fill="#c7bbac" />
<rect x="724.35" y="1094.00" width="19.65" height="37.40" fill="#c7bbac" />
<path class="sp" d="M724.35,1099.50V1124.90"/>
<rect x="744.00" y="1097.70" width="20.25" height="38.00" fill="#e7c78b" />
<rect x="763.95" y="1097.70" width="19.95" height="38.00" fill="#e7c78b" />
<path class="sp" d="M763.95,1103.20V1129.20"/>
<rect x="783.90" y="1109.10" width="19.75" height="38.50" fill="#e7c78b" />
<rect x="803.35" y="1109.10" width="19.45" height="38.50" fill="#e7c78b" />
<path class="sp" d="M803.35,1114.60V1141.10"/>
<rect x="822.80" y="1117.80" width="19.50" height="29.80" fill="#e7c78b" />
<rect x="842.00" y="1117.80" width="19.20" height="29.80" fill="#e7c78b" />
<path class="sp" d="M842.00,1123.30V1141.10"/>
<rect x="606.20" y="1205.70" width="19.99" height="37.90" fill="#c7bbac" />
<rect x="625.89" y="1205.70" width="19.99" height="37.90" fill="#c7bbac" />
<rect x="645.57" y="1205.70" width="19.99" height="37.90" fill="#c7bbac" />
<rect x="665.26" y="1205.70" width="19.99" height="37.90" fill="#c7bbac" />
<rect x="684.94" y="1205.70" width="19.99" height="37.90" fill="#c7bbac" />
<rect x="704.63" y="1205.70" width="19.99" height="37.90" fill="#c7bbac" />
<rect x="724.31" y="1205.70" width="19.69" height="37.90" fill="#c7bbac" />
<path class="sp" d="M625.89,1211.20V1237.10"/>
<path class="sp" d="M645.57,1211.20V1237.10"/>
<path class="sp" d="M665.26,1211.20V1237.10"/>
<path class="sp" d="M684.94,1211.20V1237.10"/>
<path class="sp" d="M704.63,1211.20V1237.10"/>
<path class="sp" d="M724.31,1211.20V1237.10"/>
<rect x="744.00" y="1199.40" width="20.45" height="41.00" fill="#e7c78b" />
<rect x="764.15" y="1199.40" width="20.15" height="41.00" fill="#e7c78b" />
<path class="sp" d="M764.15,1204.90V1233.90"/>
<rect x="784.30" y="1188.60" width="19.85" height="38.40" fill="#e7c78b" />
<rect x="803.85" y="1188.60" width="19.55" height="38.40" fill="#e7c78b" />
<path class="sp" d="M803.85,1194.10V1220.50"/>
<rect x="823.40" y="1188.60" width="19.20" height="28.00" fill="#e7c78b" />
<rect x="842.30" y="1188.60" width="18.90" height="28.00" fill="#e7c78b" />
<path class="sp" d="M842.30,1194.10V1210.10"/>
<rect x="701.20" y="1149.70" width="30.30" height="36.70" fill="#f3cfd7" />
<rect x="742.90" y="1149.70" width="30.20" height="36.70" fill="#f3cfd7" />
<path class="sp" d="M706,1168H727M748,1168H769"/>
<path class="h" d="M325,1142.5H299.1a1.6,1.6 0 0 0 -1.6,1.6V1170.9a1.6,1.6 0 0 0 1.6,1.6H325"/>
<use href="#stair" x="304.30" y="1163.80"/>
<use href="#lift" x="300.00" y="1178.80"/>
<use href="#lift" x="629.20" y="1144.00"/>
<path class="h" d="M627.5,1160.8H653.1a1.6,1.6 0 0 1 1.6,1.6V1188.7a1.6,1.6 0 0 1 -1.6,1.6H627.5"/>
<use href="#stair" x="633.50" y="1181.20"/>
<text class="r" x="570.75" y="1110.4" textLength="45.5" lengthAdjust="spacing" >Gangway</text>
<path class="h" d="M594.5,1117.5V1132.5M588.6,1126.8L594.5,1132.8L600.4,1126.8" stroke-width="1"/>
<text class="r" x="525.75" y="1167.4" textLength="89.8" lengthAdjust="spacing" >Check-in-Schalter</text>
<text class="r" transform="translate(599.3,1241.8) rotate(-90)" textLength="36.8" lengthAdjust="spacing">Gepäck</text>
</g>
<g id="deck2">
<path class="h" d="M13,1307.3L52.7,1293L77.3,1291.8H662.5Q750,1295 802,1312.5V1428Q750,1445 662.5,1448.4H77.3L52.7,1447.3L13,1431.1Z"/>
<path class="h" d="M373.25,1448.4V1406Q373.25,1404.25 375,1404.25H410.5L425,1389.25H438.3Q440,1389.25 440,1387.5V1382.5"/>
<rect x="455.50" y="1406.25" width="19.80" height="34.30" fill="#e7c78b" />
<rect x="475.00" y="1406.25" width="99.50" height="37.50" fill="#e7c78b" />
<rect x="574.25" y="1406.25" width="20.30" height="34.30" fill="#e7c78b" />
<rect x="594.25" y="1406.25" width="39.30" height="37.50" fill="#e7c78b" />
<rect x="633.25" y="1401.25" width="19.75" height="39.30" fill="#e7c78b" />
<path class="sp" d="M475.00,1411.00V1436.00"/>
<path class="sp" d="M494.85,1411.00V1436.00"/>
<path class="sp" d="M514.70,1411.00V1436.00"/>
<path class="sp" d="M534.55,1411.00V1436.00"/>
<path class="sp" d="M554.40,1411.00V1436.00"/>
<path class="sp" d="M574.25,1411.00V1436.00"/>
<path class="sp" d="M594.25,1411.00V1436.00"/>
<path class="sp" d="M613.75,1411.00V1436.00"/>
<path class="sp" d="M633.25,1411.00V1436.00"/>
<path class="h" d="M465,1344.5H484.65a1.6,1.6 0 0 1 1.6,1.6V1392.65a1.6,1.6 0 0 1 -1.6,1.6H465"/>
<use href="#lift" x="458.75" y="1350.60"/>
<use href="#stair" x="468.75" y="1385.50"/>
<use href="#lift" x="629.50" y="1352.10"/>
<use href="#stair" x="630.50" y="1385.50"/>
<rect class="hf" x="668" y="1344.5" width="39" height="48.8" rx="2.5"/>
<text class="r" x="672" y="1372.4" textLength="30" lengthAdjust="spacing" style="font-size:10.2px" >Sauna</text>
<text class="b" x="300" y="1381.8" textLength="67" lengthAdjust="spacing" style="font-size:14.4px" >Autodeck</text>
<text class="r" x="387.5" y="1422.9" textLength="33" lengthAdjust="spacing" >Tender</text>
<text class="r" x="388.75" y="1433.0" textLength="30" lengthAdjust="spacing" >Lobby</text>
</g>
<path class="sp" d="M655.80,537.30V539.30Q655.50,540.80 652.40,537.00"/>
<path class="sp" d="M655.80,605.70V603.70Q655.50,602.20 652.40,606.00"/>
<path class="sp" d="M681.30,736.00V738.00Q681.00,739.50 677.90,735.70"/>
<path class="sp" d="M681.30,804.00V802.00Q681.00,800.50 677.90,804.30"/>
<path class="sp" d="M566.50,1213.30V1211.30Q566.20,1209.80 563.10,1213.60"/>
<path class="sp" d="M625.90,1213.70V1211.70Q625.60,1210.20 622.50,1214.00"/>
<path class="sp" d="M635.90,512.00V531.00"/>
<path class="sp" d="M635.90,611.00V631.00"/>
<path class="sp" d="M675.70,512.00V540.00"/>
<path class="sp" d="M675.70,603.00V631.00"/>
<path class="sp" d="M243.25,513.00V541.00"/>
<path class="sp" d="M243.25,601.00V628.00"/>
<path class="sp" d="M269.50,712.00V740.00"/>
<path class="sp" d="M269.50,801.00V828.00"/>
<path class="sp" d="M662.00,712.00V731.00"/>
<path class="sp" d="M662.00,810.00V829.00"/>
<path class="sp" d="M816.25,712.00V738.00"/>
<path class="sp" d="M816.25,802.00V829.00"/>
<path class="sp" d="M744.00,1100.00V1126.00"/>
<path class="sp" d="M744.00,1211.00V1236.00"/>
<path class="sp" d="M783.90,1114.00V1130.00"/>
<path class="sp" d="M822.80,1123.00V1141.00"/>
<path class="sp" d="M784.30,1205.00V1222.00"/>
<path class="sp" d="M823.40,1194.00V1211.00"/>
<g id="cv" class="cb"><text transform="translate(61.65,527.55) rotate(-90) scale(0.535,1)">U2D-659</text><text transform="translate(81.25,527.75) rotate(-90) scale(0.529,1)">U2D-657</text><text transform="translate(100.85,527.55) rotate(-90) scale(0.535,1)">U2D-653</text><text transform="translate(120.45,527.55) rotate(-90) scale(0.535,1)">U2D-649</text><text transform="translate(140.05,527.75) rotate(-90) scale(0.529,1)">U2D-647</text><text transform="translate(159.65,527.55) rotate(-90) scale(0.535,1)">U2D-645</text><text transform="translate(179.25,527.55) rotate(-90) scale(0.535,1)">U2D-643</text><text transform="translate(198.85,528.00) rotate(-90) scale(0.522,1)">U2D-641</text><text transform="translate(218.45,527.55) rotate(-90) scale(0.535,1)">U2D-639</text><text transform="translate(238.05,527.75) rotate(-90) scale(0.529,1)">U2D-637</text><text transform="translate(61.65,614.75) rotate(-90) scale(0.535,1)">U2D-658</text><text transform="translate(81.25,614.75) rotate(-90) scale(0.535,1)">U2D-654</text><text transform="translate(100.85,614.75) rotate(-90) scale(0.535,1)">U2D-652</text><text transform="translate(120.45,614.75) rotate(-90) scale(0.535,1)">U2D-650</text><text transform="translate(140.05,614.75) rotate(-90) scale(0.535,1)">U2D-648</text><text transform="translate(159.65,614.75) rotate(-90) scale(0.535,1)">U2D-646</text><text transform="translate(179.25,614.75) rotate(-90) scale(0.535,1)">U2D-644</text><text transform="translate(198.85,614.75) rotate(-90) scale(0.535,1)">U2D-642</text><text transform="translate(218.45,614.75) rotate(-90) scale(0.535,1)">U2D-640</text><text transform="translate(238.05,614.75) rotate(-90) scale(0.535,1)">U2D-638</text><text transform="translate(60.43,571.20) rotate(-90) scale(0.549,1)">K3-660</text><text transform="translate(80.08,571.20) rotate(-90) scale(0.549,1)">K3-656</text><text transform="translate(99.72,571.20) rotate(-90) scale(0.549,1)">K3-655</text><text transform="translate(119.37,571.65) rotate(-90) scale(0.533,1)">K3-651</text><text transform="translate(260.00,527.80) rotate(-90) scale(0.541,1)">Q4-635</text><text transform="translate(265.50,617.70) rotate(-90) scale(0.541,1)">Q2-636</text><text transform="translate(335.69,547.65) rotate(-90) scale(0.56,1)">J3-633</text><text transform="translate(355.38,548.10) rotate(-90) scale(0.543,1)">J3-631</text><text transform="translate(375.07,547.65) rotate(-90) scale(0.56,1)">J3-629</text><text transform="translate(394.76,547.85) rotate(-90) scale(0.552,1)">J3-627</text><text transform="translate(414.44,547.65) rotate(-90) scale(0.56,1)">J3-625</text><text transform="translate(434.13,547.65) rotate(-90) scale(0.56,1)">J3-623</text><text transform="translate(453.82,548.10) rotate(-90) scale(0.543,1)">J3-621</text><text transform="translate(473.51,548.10) rotate(-90) scale(0.543,1)">J3-619</text><text transform="translate(493.19,548.30) rotate(-90) scale(0.535,1)">J3-617</text><text transform="translate(512.88,548.10) rotate(-90) scale(0.543,1)">J3-615</text><text transform="translate(532.57,547.70) rotate(-90) scale(0.525,1)">O3-613</text><text transform="translate(552.26,548.55) rotate(-90) scale(0.534,1)">J3-611</text><text transform="translate(335.68,590.90) rotate(-90) scale(0.543,1)">J2D-634</text><text transform="translate(355.34,590.90) rotate(-90) scale(0.543,1)">J2D-632</text><text transform="translate(375.01,590.90) rotate(-90) scale(0.543,1)">J2D-630</text><text transform="translate(394.67,590.90) rotate(-90) scale(0.543,1)">J2D-628</text><text transform="translate(473.36,590.90) rotate(-90) scale(0.543,1)">J2D-620</text><text transform="translate(493.08,591.35) rotate(-90) scale(0.529,1)">J2D-618</text><text transform="translate(512.80,591.35) rotate(-90) scale(0.529,1)">J2D-616</text><text transform="translate(532.52,590.95) rotate(-90) scale(0.522,1)">U2D-614</text><text transform="translate(552.24,591.35) rotate(-90) scale(0.529,1)">J2D-612</text><text transform="translate(610.65,521.35) rotate(-90) scale(0.541,1)">O3-609</text><text transform="translate(630.55,521.55) rotate(-90) scale(0.534,1)">O3-607</text><text transform="translate(650.45,526.15) rotate(-90) scale(0.535,1)">U2D-605</text><text transform="translate(670.35,526.15) rotate(-90) scale(0.535,1)">U2D-603</text><text transform="translate(610.65,621.25) rotate(-90) scale(0.525,1)">O3-610</text><text transform="translate(630.55,620.80) rotate(-90) scale(0.541,1)">O3-608</text><text transform="translate(650.45,616.60) rotate(-90) scale(0.535,1)">U2D-606</text><text transform="translate(670.35,616.60) rotate(-90) scale(0.535,1)">U2D-604</text><text style="font-size:15.5px" transform="translate(703.50,533.50) rotate(-90) scale(0.544,1)">M4-601</text><text style="font-size:15.5px" transform="translate(703.50,607.90) rotate(-90) scale(0.56,1)">M4-602</text><text transform="translate(85.52,727.35) rotate(-90) scale(0.522,1)">P2D-571</text><text transform="translate(105.37,726.70) rotate(-90) scale(0.542,1)">P2D-569</text><text transform="translate(125.22,726.70) rotate(-90) scale(0.542,1)">P2D-565</text><text transform="translate(145.08,727.15) rotate(-90) scale(0.528,1)">P2D-561</text><text transform="translate(164.93,726.70) rotate(-90) scale(0.542,1)">P2D-559</text><text transform="translate(184.78,726.90) rotate(-90) scale(0.536,1)">P2D-557</text><text transform="translate(204.63,726.70) rotate(-90) scale(0.542,1)">P2D-555</text><text transform="translate(224.48,726.70) rotate(-90) scale(0.542,1)">P2D-553</text><text transform="translate(244.33,727.15) rotate(-90) scale(0.528,1)">P2D-551</text><text transform="translate(264.18,726.70) rotate(-90) scale(0.542,1)">P2D-549</text><text transform="translate(85.52,814.60) rotate(-90) scale(0.536,1)">P2D-570</text><text transform="translate(105.37,814.40) rotate(-90) scale(0.542,1)">P2D-566</text><text transform="translate(125.22,814.40) rotate(-90) scale(0.542,1)">P2D-564</text><text transform="translate(145.08,814.40) rotate(-90) scale(0.542,1)">P2D-562</text><text transform="translate(164.93,814.40) rotate(-90) scale(0.542,1)">P2D-560</text><text transform="translate(184.78,814.40) rotate(-90) scale(0.542,1)">P2D-558</text><text transform="translate(204.63,814.40) rotate(-90) scale(0.542,1)">P2D-556</text><text transform="translate(224.48,814.40) rotate(-90) scale(0.542,1)">P2D-554</text><text transform="translate(244.33,814.40) rotate(-90) scale(0.542,1)">P2D-552</text><text transform="translate(264.18,814.40) rotate(-90) scale(0.542,1)">P2D-550</text><text transform="translate(85.50,770.90) rotate(-90) scale(0.542,1)">K3-572</text><text transform="translate(105.35,770.90) rotate(-90) scale(0.549,1)">K3-568</text><text transform="translate(125.20,770.90) rotate(-90) scale(0.542,1)">K3-567</text><text transform="translate(145.05,770.90) rotate(-90) scale(0.549,1)">K3-563</text><text transform="translate(287.35,729.60) rotate(-90) scale(0.534,1)">Q4-547</text><text transform="translate(287.35,817.70) rotate(-90) scale(0.541,1)">Q2-548</text><text transform="translate(361.50,747.05) rotate(-90) scale(0.541,1)">O3-545</text><text transform="translate(381.30,747.05) rotate(-90) scale(0.541,1)">O3-543</text><text transform="translate(401.10,747.90) rotate(-90) scale(0.543,1)">J3-541</text><text transform="translate(420.90,747.05) rotate(-90) scale(0.541,1)">O3-539</text><text transform="translate(440.70,747.25) rotate(-90) scale(0.534,1)">O3-537</text><text transform="translate(460.50,747.05) rotate(-90) scale(0.541,1)">O3-535</text><text transform="translate(480.30,747.05) rotate(-90) scale(0.541,1)">O3-533</text><text transform="translate(500.19,747.50) rotate(-90) scale(0.543,1)">J3-531</text><text transform="translate(520.17,747.05) rotate(-90) scale(0.56,1)">J3-529</text><text transform="translate(540.15,747.25) rotate(-90) scale(0.552,1)">J3-527</text><text transform="translate(560.13,747.05) rotate(-90) scale(0.56,1)">J3-525</text><text transform="translate(580.11,747.05) rotate(-90) scale(0.56,1)">J3-523</text><text transform="translate(361.51,790.80) rotate(-90) scale(0.542,1)">P2D-546</text><text transform="translate(381.34,790.80) rotate(-90) scale(0.542,1)">P2D-544</text><text transform="translate(401.16,790.80) rotate(-90) scale(0.542,1)">P2D-542</text><text transform="translate(420.99,790.80) rotate(-90) scale(0.542,1)">P2D-540</text><text transform="translate(500.19,790.80) rotate(-90) scale(0.543,1)">J2D-532</text><text transform="translate(520.17,790.80) rotate(-90) scale(0.543,1)">J2D-530</text><text transform="translate(540.15,790.80) rotate(-90) scale(0.543,1)">J2D-528</text><text transform="translate(560.13,790.80) rotate(-90) scale(0.543,1)">J2D-526</text><text transform="translate(580.11,790.80) rotate(-90) scale(0.543,1)">J2D-524</text><text transform="translate(637.91,721.65) rotate(-90) scale(0.525,1)">O3-521</text><text transform="translate(657.04,721.65) rotate(-90) scale(0.525,1)">O3-519</text><text transform="translate(637.91,819.60) rotate(-90) scale(0.541,1)">O3-522</text><text transform="translate(657.04,819.60) rotate(-90) scale(0.541,1)">O3-520</text><text transform="translate(676.24,726.35) rotate(-90) scale(0.522,1)">P2D-517</text><text transform="translate(695.52,726.15) rotate(-90) scale(0.528,1)">P2D-515</text><text transform="translate(714.80,726.15) rotate(-90) scale(0.528,1)">P2D-513</text><text transform="translate(734.08,726.60) rotate(-90) scale(0.521,1)">P2D-511</text><text transform="translate(753.37,725.70) rotate(-90) scale(0.542,1)">P2D-509</text><text transform="translate(772.65,725.90) rotate(-90) scale(0.536,1)">P2D-507</text><text transform="translate(791.93,725.70) rotate(-90) scale(0.542,1)">P2D-505</text><text transform="translate(811.21,725.70) rotate(-90) scale(0.542,1)">P2D-503</text><text transform="translate(676.24,815.75) rotate(-90) scale(0.528,1)">P2D-518</text><text transform="translate(695.52,815.75) rotate(-90) scale(0.528,1)">P2D-516</text><text transform="translate(714.80,815.75) rotate(-90) scale(0.528,1)">P2D-514</text><text transform="translate(734.08,815.75) rotate(-90) scale(0.528,1)">P2D-512</text><text transform="translate(753.37,815.75) rotate(-90) scale(0.528,1)">P2D-510</text><text transform="translate(772.65,815.30) rotate(-90) scale(0.542,1)">P2D-508</text><text transform="translate(791.93,815.30) rotate(-90) scale(0.542,1)">P2D-506</text><text transform="translate(811.21,815.30) rotate(-90) scale(0.542,1)">P2D-504</text><text transform="translate(829.90,744.20) rotate(-90) scale(0.525,1)">O2-501</text><text transform="translate(829.90,798.90) rotate(-90) scale(0.541,1)">O2-502</text><text transform="translate(87.18,1113.00) rotate(-90) scale(0.529,1)">N2D-357</text><text transform="translate(106.93,1112.80) rotate(-90) scale(0.535,1)">N2D-355</text><text transform="translate(126.68,1112.80) rotate(-90) scale(0.535,1)">N2D-353</text><text transform="translate(146.44,1113.25) rotate(-90) scale(0.522,1)">N2D-351</text><text transform="translate(166.19,1113.00) rotate(-90) scale(0.529,1)">N2D-347</text><text transform="translate(185.94,1112.80) rotate(-90) scale(0.535,1)">N2D-343</text><text transform="translate(205.70,1113.25) rotate(-90) scale(0.522,1)">N2D-341</text><text transform="translate(225.45,1112.80) rotate(-90) scale(0.535,1)">N2D-339</text><text transform="translate(245.21,1113.00) rotate(-90) scale(0.529,1)">N2D-337</text><text transform="translate(264.96,1112.80) rotate(-90) scale(0.535,1)">N2D-335</text><text transform="translate(284.71,1115.60) rotate(-90) scale(0.549,1)">N2-333</text><text transform="translate(304.47,1113.25) rotate(-90) scale(0.522,1)">N2D-331</text><text transform="translate(324.22,1112.80) rotate(-90) scale(0.535,1)">N2D-329</text><text transform="translate(343.97,1113.00) rotate(-90) scale(0.529,1)">N2D-327</text><text transform="translate(87.17,1227.30) rotate(-90) scale(0.549,1)">N3-394</text><text transform="translate(106.92,1227.30) rotate(-90) scale(0.549,1)">N3-390</text><text transform="translate(126.67,1227.30) rotate(-90) scale(0.549,1)">N3-386</text><text transform="translate(146.42,1227.30) rotate(-90) scale(0.549,1)">N3-382</text><text transform="translate(166.17,1227.50) rotate(-90) scale(0.542,1)">N3-378</text><text transform="translate(185.92,1227.50) rotate(-90) scale(0.542,1)">N3-374</text><text transform="translate(205.67,1227.50) rotate(-90) scale(0.542,1)">N3-370</text><text transform="translate(225.42,1227.30) rotate(-90) scale(0.549,1)">N3-368</text><text transform="translate(245.17,1227.30) rotate(-90) scale(0.549,1)">N3-366</text><text transform="translate(264.93,1227.30) rotate(-90) scale(0.549,1)">N3-364</text><text transform="translate(284.68,1227.30) rotate(-90) scale(0.549,1)">N3-362</text><text transform="translate(304.43,1227.30) rotate(-90) scale(0.549,1)">N3-360</text><text transform="translate(324.18,1227.30) rotate(-90) scale(0.549,1)">N3-358</text><text transform="translate(343.93,1227.30) rotate(-90) scale(0.549,1)">N3-356</text><text transform="translate(363.68,1227.30) rotate(-90) scale(0.549,1)">N2-354</text><text transform="translate(383.43,1224.50) rotate(-90) scale(0.535,1)">N2D-352</text><text transform="translate(403.18,1224.50) rotate(-90) scale(0.535,1)">N2D-350</text><text transform="translate(422.93,1224.50) rotate(-90) scale(0.535,1)">N2D-348</text><text transform="translate(442.68,1224.50) rotate(-90) scale(0.535,1)">N2D-346</text><text transform="translate(462.43,1224.50) rotate(-90) scale(0.535,1)">N2D-344</text><text transform="translate(482.18,1224.50) rotate(-90) scale(0.535,1)">N2D-342</text><text transform="translate(501.93,1224.50) rotate(-90) scale(0.535,1)">N2D-340</text><text transform="translate(521.68,1224.50) rotate(-90) scale(0.535,1)">N2D-338</text><text transform="translate(541.43,1224.50) rotate(-90) scale(0.535,1)">N2D-336</text><text transform="translate(561.18,1224.50) rotate(-90) scale(0.535,1)">N2D-334</text><text transform="translate(580.93,1227.30) rotate(-90) scale(0.549,1)">N2-332</text><text transform="translate(105.80,1180.70) rotate(-90) scale(0.569,1)">I2-392</text><text transform="translate(125.35,1180.70) rotate(-90) scale(0.569,1)">I2-388</text><text transform="translate(144.90,1180.70) rotate(-90) scale(0.569,1)">I2-384</text><text transform="translate(164.45,1180.70) rotate(-90) scale(0.569,1)">I2-380</text><text transform="translate(184.00,1180.70) rotate(-90) scale(0.56,1)">I2-376</text><text transform="translate(203.55,1180.70) rotate(-90) scale(0.56,1)">I2-372</text><text transform="translate(455.90,1111.70) rotate(-90) scale(0.533,1)">SD-325</text><text transform="translate(486.57,1111.70) rotate(-90) scale(0.533,1)">SD-323</text><text transform="translate(517.24,1111.70) rotate(-90) scale(0.517,1)">SD-321</text><text transform="translate(719.13,1112.60) rotate(-90) scale(0.515,1)">O2D-319</text><text transform="translate(738.77,1112.80) rotate(-90) scale(0.509,1)">O2D-317</text><text transform="translate(758.58,1117.50) rotate(-90) scale(0.514,1)">L2D-311</text><text transform="translate(778.53,1116.60) rotate(-90) scale(0.535,1)">L2D-309</text><text transform="translate(798.23,1128.45) rotate(-90) scale(0.529,1)">L2D-307</text><text transform="translate(817.67,1128.25) rotate(-90) scale(0.535,1)">L2D-305</text><text transform="translate(837.00,1132.60) rotate(-90) scale(0.549,1)">L2-303</text><text transform="translate(856.20,1133.05) rotate(-90) scale(0.532,1)">L2-301</text><text transform="translate(620.64,1227.35) rotate(-90) scale(0.541,1)">O2-330</text><text transform="translate(640.33,1224.55) rotate(-90) scale(0.529,1)">O2D-328</text><text transform="translate(660.01,1224.55) rotate(-90) scale(0.529,1)">O2D-326</text><text transform="translate(679.70,1224.55) rotate(-90) scale(0.529,1)">O2D-324</text><text transform="translate(699.39,1224.55) rotate(-90) scale(0.529,1)">O2D-322</text><text transform="translate(719.07,1224.55) rotate(-90) scale(0.529,1)">O2D-320</text><text transform="translate(738.76,1225.00) rotate(-90) scale(0.515,1)">O2D-318</text><text transform="translate(758.68,1219.80) rotate(-90) scale(0.521,1)">L2D-312</text><text transform="translate(778.82,1219.80) rotate(-90) scale(0.521,1)">L2D-310</text><text transform="translate(798.67,1207.70) rotate(-90) scale(0.535,1)">L2D-308</text><text transform="translate(818.22,1207.70) rotate(-90) scale(0.535,1)">L2D-306</text><text transform="translate(837.45,1202.50) rotate(-90) scale(0.549,1)">L2-304</text><text transform="translate(856.35,1202.50) rotate(-90) scale(0.549,1)">L2-302</text><text transform="translate(469.85,1422.70) rotate(-90) scale(0.549,1)">L2-220</text><text transform="translate(489.53,1422.70) rotate(-90) scale(0.532,1)">L3-218</text><text transform="translate(509.38,1422.70) rotate(-90) scale(0.532,1)">L3-216</text><text transform="translate(529.23,1422.70) rotate(-90) scale(0.532,1)">L3-214</text><text transform="translate(549.07,1422.70) rotate(-90) scale(0.532,1)">L3-212</text><text transform="translate(568.93,1422.70) rotate(-90) scale(0.532,1)">L3-210</text><text transform="translate(588.85,1422.70) rotate(-90) scale(0.549,1)">L2-208</text><text transform="translate(608.60,1422.70) rotate(-90) scale(0.549,1)">L3-206</text><text transform="translate(628.10,1422.70) rotate(-90) scale(0.549,1)">L3-204</text><text transform="translate(647.73,1422.70) rotate(-90) scale(0.549,1)">L3-202</text></g><use href="#cv" y="-0.5"/>
<g id="ch" class="cb"><text transform="translate(104.35,1161.40) scale(0.569,1)">I2-359</text><text transform="translate(138.25,1161.40) scale(0.569,1)">I2-349</text><text transform="translate(192.75,1161.40) scale(0.569,1)">I2-345</text><text transform="translate(716.15,1163.80) scale(0.55,1)">I2-315</text><text transform="translate(716.15,1181.60) scale(0.55,1)">I2-316</text><text transform="translate(757.75,1163.80) scale(0.55,1)">I2-313</text><text transform="translate(757.75,1181.60) scale(0.531,1)">I1-314</text></g><use href="#ch" x="0.5"/>
</svg></body></html>
